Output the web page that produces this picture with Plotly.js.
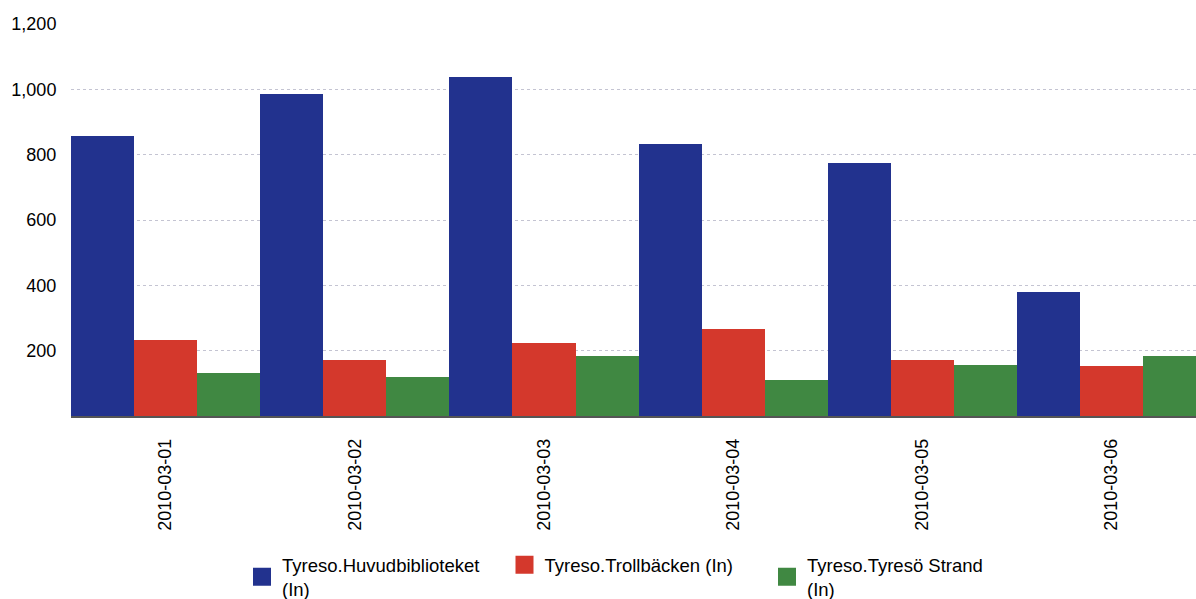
<!DOCTYPE html>
<html>
<head>
<meta charset="utf-8">
<script src="https://cdn.plot.ly/plotly-3.0.1.min.js"></script>
<style>
html,body{margin:0;padding:0;background:#fff;overflow:hidden;}
#chart{width:1196px;height:599px;}
</style>
</head>
<body>
<div id="chart"></div>
<script>
const categories = ["2010-03-01","2010-03-02","2010-03-03","2010-03-04","2010-03-05","2010-03-06"];
const huvudbiblioteket = [858, 986, 1038, 834, 774, 380];
const trollbacken = [234, 170, 222, 265, 172, 153];
const tyresoStrand = [132, 118, 183, 109, 157, 183];
const seriesNames = ["Tyreso.Huvudbiblioteket<br>(In)", "Tyreso.Trollbäcken (In)", "Tyreso.Tyresö Strand<br>(In)"];
const yTicks = [200, 400, 600, 800, 1000, 1200];
const yTickLabels = ["200", "400", "600", "800", "1,000", "1,200"];

const colors = ["rgb(34,50,142)", "rgb(212,56,44)", "rgb(64,136,66)"];
const data = [huvudbiblioteket, trollbacken, tyresoStrand].map((vals, i) => ({
  type: "bar",
  x: categories,
  y: vals,
  name: seriesNames[i],
  marker: {color: colors[i], line: {width: 0}},
  hoverinfo: "none"
}));

const layout = {
  width: 1196,
  height: 599,
  margin: {l: 71, r: 0, t: 24, b: 182.5, autoexpand: false},
  paper_bgcolor: "#fff",
  plot_bgcolor: "#fff",
  barmode: "group",
  bargap: 0,
  bargroupgap: 0,
  font: {family: "Liberation Sans, Arial, sans-serif", size: 18, color: "#000"},
  xaxis: {
    type: "category",
    automargin: false,
    range: [-0.5, 5.446],
    tickangle: -90,
    showline: true,
    linecolor: "#555",
    linewidth: 1.5,
    ticks: "outside",
    ticklen: 14,
    tickcolor: "rgba(0,0,0,0)",
    showgrid: false,
    tickfont: {size: 18, color: "#000"}
  },
  yaxis: {
    automargin: false,
    range: [0, 1200],
    tickvals: yTicks,
    ticktext: yTickLabels,
    showgrid: true,
    gridcolor: "#c4c4d2",
    griddash: "dot",
    gridwidth: 1,
    zeroline: false,
    showline: false,
    ticks: "outside",
    ticklen: 10,
    tickcolor: "rgba(0,0,0,0)",
    tickfont: {size: 18, color: "#000"}
  },
  showlegend: true,
  legend: {
    orientation: "h",
    x: (242 - 71) / 1125,
    xanchor: "left",
    y: -0.332,
    yanchor: "top",
    font: {size: 18.5, color: "#000"},
    entrywidth: 217.5,
    entrywidthmode: "pixels",
    valign: "middle",
    traceorder: "normal"
  }
};

Plotly.newPlot("chart", data, layout, {staticPlot: true}).then(() => {
  document.querySelectorAll(".legendpoints path").forEach(p => {
    const t = p.getAttribute("transform") || "";
    p.setAttribute("transform", t + " scale(1.5)");
  });
});
</script>
</body>
</html>
